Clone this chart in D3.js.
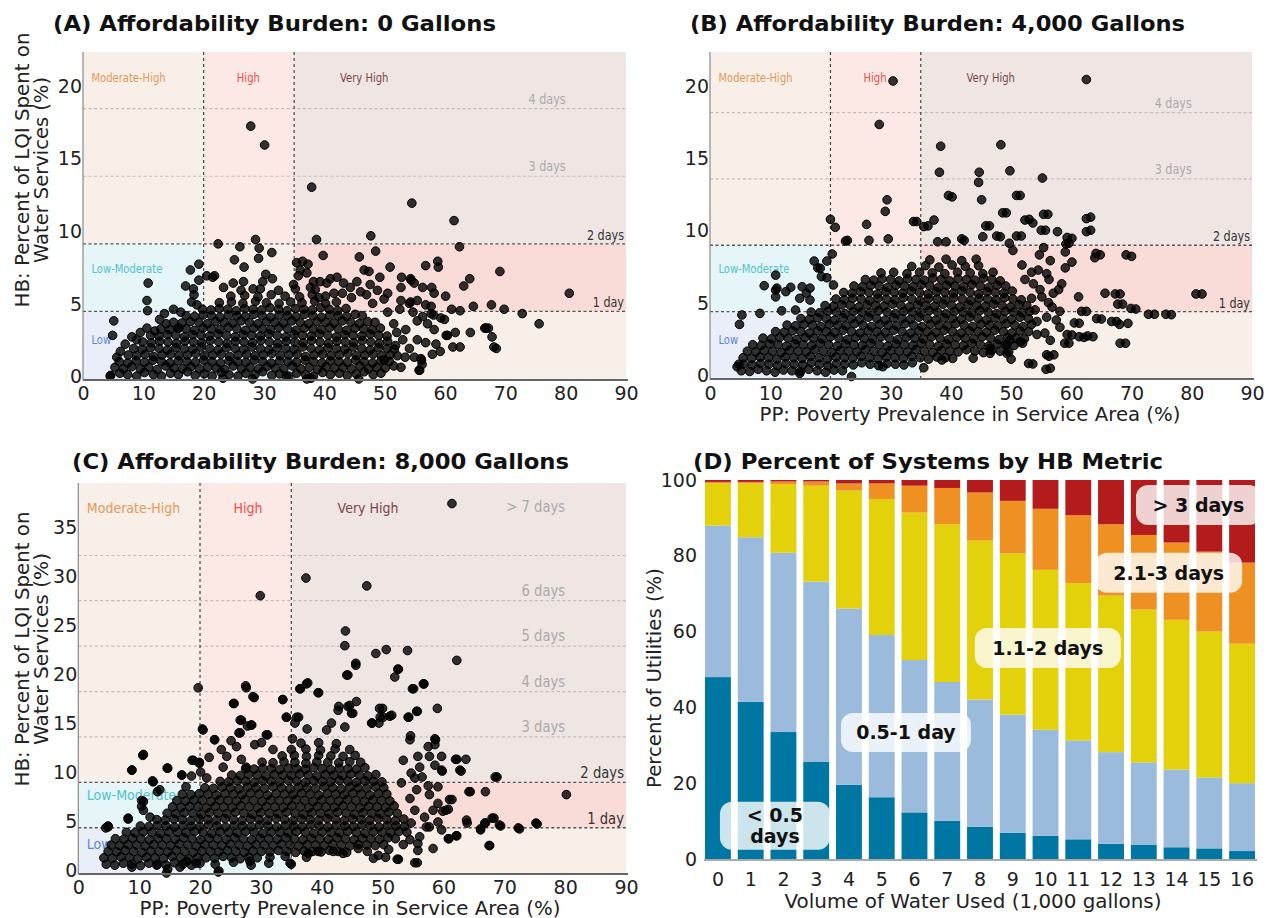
<!DOCTYPE html>
<html>
<head>
<meta charset="utf-8">
<script src="https://cdn.jsdelivr.net/npm/d3@7"></script>
<style>
  body { margin: 0; background: #fff; }
  text { font-family: "DejaVu Sans", Verdana, sans-serif; }
</style>
</head>
<body>
<svg width="1269" height="918"></svg>
<script>
// ---- data ----
var ppTicks = [0, 10, 20, 30, 40, 50, 60, 70, 80, 90];
var hbTicksAB = [0, 5, 10, 15, 20];
var hbTicksC = [0, 5, 10, 15, 20, 25, 30, 35];
var ppBreaks = [0, 20, 35, 90];
var daysA = [4.65, 9.3, 13.95, 18.6];
var daysB = [4.58, 9.16, 13.74, 18.32];
var daysC = [4.62, 9.25, 13.9, 18.5, 23.15, 27.8, 32.4];
var dayLabels = ["1 day", "2 days", "3 days", "4 days", "5 days", "6 days", "> 7 days"];
var zoneNames = ["Moderate-High", "High", "Very High", "Low-Moderate", "Low"];

// (x = PP %, y = HB %) points, "x,y" pairs
var pointsA = `
4.6,.25 6.1,.4 7.4,.3 8.9,.2 10.2,.45 11.7,.3 13,.2 14.5,.4 15.8,.3 17.3,.5 18.6,.25 20.1,.35 21.4,.2 22.9,.45 24.2,.3 25.7,.2 27,.4 28.5,.3 29.8,.5 31.3,.25 32.6,.35 34.1,.2 35.4,.4 36.9,.3 38.2,.2 39.7,.45 41,.3 42.5,.4 43.8,.25 45.3,.35 46.6,.5 48.1,.3 49.4,.4
5.3,.8 6.7,.7 8.1,.85 9.5,.7 10.9,.8 12.3,.65 13.7,.9 15.1,.75 16.5,.7 17.9,.85 19.3,.7 20.7,.8 22.1,.75 23.5,.65 24.9,.9 26.3,.7 27.7,.8 29.1,.7 30.5,.85 31.9,.75 33.3,.7 34.7,.9 36.1,.7 37.5,.8 38.9,.65 40.3,.85 41.7,.75 43.1,.8 44.5,.7 45.9,.9 47.3,.7 48.7,.8 50.1,.75
6,1.2 7.4,1.1 8.8,1.25 10.2,1.15 11.6,1.3 13,1.2 14.4,1.1 15.8,1.25 17.2,1.2 18.6,1.15 20,1.3 21.4,1.2 22.8,1.1 24.2,1.25 25.6,1.2 27,1.15 28.4,1.3 29.8,1.2 31.2,1.1 32.6,1.25 34,1.2 35.4,1.15 36.8,1.3 38.2,1.2 39.6,1.1 41,1.25 42.4,1.2 43.8,1.15 45.2,1.3 46.6,1.2 48,1.1 49.4,1.25 50.8,1.2
7.5,1.65 8.9,1.6 10.3,1.7 11.7,1.55 13.1,1.65 14.5,1.7 15.9,1.6 17.3,1.65 18.7,1.75 20.1,1.6 21.5,1.65 22.9,1.7 24.3,1.55 25.7,1.65 27.1,1.7 28.5,1.6 29.9,1.65 31.3,1.75 32.7,1.6 34.1,1.65 35.5,1.7 36.9,1.55 38.3,1.65 39.7,1.7 41.1,1.6 42.5,1.65 43.9,1.75 45.3,1.6 46.7,1.65 48.1,1.7 49.5,1.6 50.9,1.65
8.4,2.1 9.8,2.05 11.2,2.15 12.6,2.1 14,2 15.4,2.15 16.8,2.1 18.2,2.05 19.6,2.2 21,2.1 22.4,2 23.8,2.15 25.2,2.1 26.6,2.05 28,2.2 29.4,2.1 30.8,2 32.2,2.15 33.6,2.1 35,2.05 36.4,2.2 37.8,2.1 39.2,2 40.6,2.15 42,2.1 43.4,2.05 44.8,2.2 46.2,2.1 47.6,2 49,2.15 50.4,2.1 51.6,2.05
9.9,2.55 11.3,2.5 12.7,2.6 14.1,2.55 15.5,2.45 16.9,2.6 18.3,2.55 19.7,2.5 21.1,2.65 22.5,2.55 23.9,2.45 25.3,2.6 26.7,2.55 28.1,2.5 29.5,2.65 30.9,2.55 32.3,2.45 33.7,2.6 35.1,2.55 36.5,2.5 37.9,2.65 39.3,2.55 40.7,2.45 42.1,2.6 43.5,2.55 44.9,2.5 46.3,2.65 47.7,2.55 49.1,2.45 50.5,2.6
11.2,3 12.6,2.95 14,3.05 15.4,3 16.8,2.9 18.2,3.05 19.6,3 21,2.95 22.4,3.1 23.8,3 25.2,2.9 26.6,3.05 28,3 29.4,2.95 30.8,3.1 32.2,3 33.6,2.9 35,3.05 36.4,3 37.8,2.95 39.2,3.1 40.6,3 42,2.9 43.4,3.05 44.8,3 46.2,2.95 47.6,3.1 49,3 50.4,2.95
12.9,3.45 14.3,3.4 15.7,3.5 17.1,3.45 18.5,3.35 19.9,3.5 21.3,3.45 22.7,3.4 24.1,3.55 25.5,3.45 26.9,3.35 28.3,3.5 29.7,3.45 31.1,3.4 32.5,3.55 33.9,3.45 35.3,3.35 36.7,3.5 38.1,3.45 39.5,3.4 40.9,3.55 42.3,3.45 43.7,3.35 45.1,3.5 46.5,3.45 47.9,3.4 49.3,3.5
15,3.9 16.4,3.85 17.8,3.95 19.2,3.9 20.6,3.8 22,3.95 23.4,3.9 24.8,3.85 26.2,4 27.6,3.9 29,3.8 30.4,3.95 31.8,3.9 33.2,3.85 34.6,4 36,3.9 37.4,3.8 38.8,3.95 40.2,3.9 41.6,3.85 43,4 44.4,3.9 45.8,3.8 47.2,3.95 48.4,3.9
17.1,4.35 18.5,4.3 19.9,4.4 21.3,4.35 22.7,4.25 24.1,4.4 25.5,4.35 26.9,4.3 28.3,4.45 29.7,4.35 31.1,4.25 32.5,4.4 33.9,4.35 35.3,4.3 36.7,4.45 38.1,4.35 39.5,4.25 40.9,4.4 42.3,4.35 43.7,4.3 45.1,4.45 46.3,4.35
19.8,4.8 21.2,4.75 22.6,4.85 24,4.8 25.4,4.7 26.8,4.85 28.2,4.8 29.6,4.75 31,4.9 32.4,4.8 33.8,4.7 35.2,4.85 36.6,4.8 38,4.75 39.4,4.9 40.8,4.8 42.2,4.7 43.6,4.85
22.6,5.25 24.6,5.3 26.5,5.2 28.6,5.35 30.4,5.25 32.5,5.2 34.4,5.3 36.3,5.25 38.4,5.35 40.2,5.2 42,5.3
24.5,5.7 26.8,5.75 29,5.65 31.2,5.8 33.5,5.7 35.9,5.65 38,5.8 40.2,5.7
26.2,6.1 29.4,6.2 32.4,6.1 35.2,6.2 38.5,6.15
27.8,17.4 30.1,16.1 37.9,13.2 54.5,12.1 61.5,10.9 47.7,9.85 38.7,9.6 28.6,9.6 22.4,9.3 26,9.1 29.2,9 62.4,9.1 31.3,8.7 29.1,8.3 25.1,8.2
48.5,8.8 45.8,8.4 39.8,8.5 56.8,7.8 58.8,8.1 58.9,7.7 69.1,7.4 50.9,7.7 64.1,6.9 63.1,6.4 80.6,5.9 60.1,5.7 64.7,5 67.7,5.1 69.8,4.8
61.1,4.8 62.5,4.7 72.8,4.5 75.6,3.8 66.6,3.5 67.2,3.5 67.8,2.9 68.1,2.2 68.5,2.1 64.2,3.2 60.4,3 61.7,3.2 61.3,2.2 62.5,2.2 58.5,2.4
57.9,1.7 56,1.4 56.2,1 55.7,.6 52.7,.8 45.7,0 37.1,0 37.8,.05 33.7,.2 28.1,0 23.2,.05 4.5,.2 4.9,3 5.1,4 10.8,6.6 10.6,5.4 10.7,4.7 10.6,3.5
15,4.8 26.7,7.7 21.8,7.1 21.5,7 19.2,7.9 17.8,7.5 19.2,6.8 20.5,7.1 17,6.4 18.3,6.2 18.4,5.8 18,5.3 18.9,5.1 30.3,7.2 31.4,6.9 29.8,6.7
24.9,6.6 26.6,6.7 28.2,6.2 23.3,6.3 35.4,8 36.4,8.1 37.3,7.9 36,7.5 37.1,7.3 35.7,7.1 38.2,6.7 39.3,6.7 41,6.9 42.1,7 43.2,6.6 34.9,6.5
37.7,6.3 40.4,6.6 44.3,6.3 45.4,6.7 41.6,5.9 39.1,5.6 46.6,7.5 47.4,7.4 49.2,7 52.8,7 54.3,6.9 54.9,6.6 56.3,6.3 57.8,6.3 58.2,5.9
59.3,4.2 59.9,4.1 57.7,4.5 49.9,5.5 52.7,5.4 55.4,5.4 56.8,5.1 57.7,5 54.3,5.3 54.7,4.6 56.3,4.3 57.1,3.8 58.2,3.4 53.5,3.4 55.4,2.7
56.8,2.5 54.1,2.1 54.9,1.5 52.1,1.6 51.5,.9 49.9,1.3 53,2.7 53.4,1.5 55.8,.6 56.1,1.3 55.4,4 54.1,5.2 52.7,6.3 54.4,6.8 66.8,3.5
59.2,1.9 60.2,3 58.1,4.4 47,5.8 46,6 48,5.2 50.5,4.6 51.5,3.8 52.5,4.8 44.5,5.6 43,5.9 47.6,6.5 48.8,6.1 50.5,5.9 52,3.2 51.8,2.3
8.1,2.9 8.9,2.7 12.7,4.1 13.8,3.8 15.9,3.5 11.9,3.3 7,2.4 6.2,1.9 5.6,1.5 9.5,3.2 13.5,4.5 16.2,4.6`;

var pointsB = `
5.2,.5 6.6,.45 8,.6 9.4,.5 10.8,.4 12.2,.55 13.6,.5 15,.45 16.4,.6 17.8,.5 19.2,.4 20.6,.55 22,.5
5.6,.95 7,.9 8.4,1 9.8,.95 11.2,.85 12.6,1 14,.95 15.4,.9 16.8,1.05 18.2,.95 19.6,.85 21,1 22.4,.95 23.8,.9 25.2,1.05 26.6,.95 28,.85 29.4,1 30.8,.95 32.2,.9 33.6,1.05
5.5,1.4 6.9,1.35 8.3,1.45 9.7,1.4 11.1,1.3 12.5,1.45 13.9,1.4 15.3,1.35 16.7,1.5 18.1,1.4 19.5,1.3 20.9,1.45 22.3,1.4 23.7,1.35 25.1,1.5 26.5,1.4 27.9,1.3 29.3,1.45 30.7,1.4 32.1,1.35 33.5,1.5 34.9,1.4 36.3,1.3 37.7,1.45 39.1,1.4 40.3,1.35
6.2,1.85 7.6,1.8 9,1.9 10.4,1.85 11.8,1.75 13.2,1.9 14.6,1.85 16,1.8 17.4,1.95 18.8,1.85 20.2,1.75 21.6,1.9 23,1.85 24.4,1.8 25.8,1.95 27.2,1.85 28.6,1.75 30,1.9 31.4,1.85 32.8,1.8 34.2,1.95 35.6,1.85 37,1.75 38.4,1.9 39.8,1.85 41.2,1.8 42.6,1.95 44,1.85 45.4,1.75 46.8,1.9 48.2,1.85 49.6,1.8
7.1,2.3 8.5,2.25 9.9,2.35 11.3,2.3 12.7,2.2 14.1,2.35 15.5,2.3 16.9,2.25 18.3,2.4 19.7,2.3 21.1,2.2 22.5,2.35 23.9,2.3 25.3,2.25 26.7,2.4 28.1,2.3 29.5,2.2 30.9,2.35 32.3,2.3 33.7,2.25 35.1,2.4 36.5,2.3 37.9,2.2 39.3,2.35 40.7,2.3 42.1,2.25 43.5,2.4 44.9,2.3 46.3,2.2 47.7,2.35 49.1,2.3 50.5,2.25 51.9,2.4
8.8,2.75 10.2,2.7 11.6,2.8 13,2.75 14.4,2.65 15.8,2.8 17.2,2.75 18.6,2.7 20,2.85 21.4,2.75 22.8,2.65 24.2,2.8 25.6,2.75 27,2.7 28.4,2.85 29.8,2.75 31.2,2.65 32.6,2.8 34,2.75 35.4,2.7 36.8,2.85 38.2,2.75 39.6,2.65 41,2.8 42.4,2.75 43.8,2.7 45.2,2.85 46.6,2.75 48,2.65 49.4,2.8 50.8,2.75 52.2,2.7
10.9,3.2 12.3,3.15 13.7,3.25 15.1,3.2 16.5,3.1 17.9,3.25 19.3,3.2 20.7,3.15 22.1,3.3 23.5,3.2 24.9,3.1 26.3,3.25 27.7,3.2 29.1,3.15 30.5,3.3 31.9,3.2 33.3,3.1 34.7,3.25 36.1,3.2 37.5,3.15 38.9,3.3 40.3,3.2 41.7,3.1 43.1,3.25 44.5,3.2 45.9,3.15 47.3,3.3 48.7,3.2 50.1,3.1 51.5,3.25 52.9,3.2
12.8,3.65 14.2,3.6 15.6,3.7 17,3.65 18.4,3.55 19.8,3.7 21.2,3.65 22.6,3.6 24,3.75 25.4,3.65 26.8,3.55 28.2,3.7 29.6,3.65 31,3.6 32.4,3.75 33.8,3.65 35.2,3.55 36.6,3.7 38,3.65 39.4,3.6 40.8,3.75 42.2,3.65 43.6,3.55 45,3.7 46.4,3.65 47.8,3.6 49.2,3.75 50.6,3.65 52,3.55 53.4,3.7
15.1,4.1 16.5,4.05 17.9,4.15 19.3,4.1 20.7,4 22.1,4.15 23.5,4.1 24.9,4.05 26.3,4.2 27.7,4.1 29.1,4 30.5,4.15 31.9,4.1 33.3,4.05 34.7,4.2 36.1,4.1 37.5,4 38.9,4.15 40.3,4.1 41.7,4.05 43.1,4.2 44.5,4.1 45.9,4 47.3,4.15 48.7,4.1 50.1,4.05 51.5,4.2 52.9,4.1
16.8,4.55 18.2,4.5 19.6,4.6 21,4.55 22.4,4.45 23.8,4.6 25.2,4.55 26.6,4.5 28,4.65 29.4,4.55 30.8,4.45 32.2,4.6 33.6,4.55 35,4.5 36.4,4.65 37.8,4.55 39.2,4.45 40.6,4.6 42,4.55 43.4,4.5 44.8,4.65 46.2,4.55 47.6,4.45 49,4.6 50.4,4.55 51.8,4.5 53.1,4.6
19.1,5 20.5,4.95 21.9,5.05 23.3,5 24.7,4.9 26.1,5.05 27.5,5 28.9,4.95 30.3,5.1 31.7,5 33.1,4.9 34.5,5.05 35.9,5 37.3,4.95 38.7,5.1 40.1,5 41.5,4.9 42.9,5.05 44.3,5 45.7,4.95 47.1,5.1 48.5,5 49.9,4.9 51.3,5.05 52.6,5
20.9,5.45 22.3,5.4 23.7,5.5 25.1,5.45 26.5,5.35 27.9,5.5 29.3,5.45 30.7,5.4 32.1,5.55 33.5,5.45 34.9,5.35 36.3,5.5 37.7,5.45 39.1,5.4 40.5,5.55 41.9,5.45 43.3,5.35 44.7,5.5 46.1,5.45 47.5,5.4 48.9,5.55 50.3,5.45 51.7,5.4
22.2,5.9 23.6,5.85 25,5.95 26.4,5.9 27.8,5.8 29.2,5.95 30.6,5.9 32,5.85 33.4,6 34.8,5.9 36.2,5.8 37.6,5.95 39,5.9 40.4,5.85 41.8,6 43.2,5.9 44.6,5.8 46,5.95 47.4,5.9 48.8,5.85 50.2,6
23.9,6.35 25.3,6.3 26.7,6.4 28.1,6.35 29.5,6.25 30.9,6.4 32.3,6.35 33.7,6.3 35.1,6.45 36.5,6.35 37.9,6.25 39.3,6.4 40.7,6.35 42.1,6.3 43.5,6.45 44.9,6.35 46.3,6.25 47.7,6.4 49.1,6.35
25.8,6.8 27.2,6.75 28.6,6.85 30,6.8 31.4,6.7 32.8,6.85 34.2,6.8 35.6,6.75 37,6.9 38.4,6.8 39.8,6.7 41.2,6.85 42.6,6.8 44,6.75 45.4,6.9 46.8,6.8 48.2,6.7
28.4,7.25 30.5,7.3 32.7,7.2 34.8,7.3 36.9,7.25 39,7.2 41.1,7.3 43.2,7.25 45.3,7.2 47,7.3
33.5,7.7 35.8,7.75 38,7.65 40.2,7.8 42.4,7.7 44.6,7.75
36.5,8.15 39.2,8.2 41.8,8.1 44.2,8.2
30.4,20.5 62.5,20.6 28.1,17.5 38.3,16 48.3,16.1 38.1,14.2 44.7,14.2 44.6,13.5 49.8,14.3 55.2,13.8 40.2,12.5 45.1,12.3 51.5,12.6 29.4,12.3 29.1,11.5
49.2,11.4 56.1,11.3 53,10.95 53.6,10.7 63.2,11.1 63.2,10.2 46.4,10.5 55.7,10.2 57.7,10.1 51.7,9.8 48.2,9.75 60.1,9.64 59.6,9.3 20,10.95 20.8,10.4
22.8,9.5 26,10.6 26.4,9.5 29.6,9.6 34.3,10.8 36.2,10.5 37.2,10.9 37.8,9.4 39.2,9.4 42.2,9.5 45.3,9.75 70,8.4 64.8,8.5 63.9,8.3 81.7,5.8
65.6,5.85 68.1,5.8 68.5,5.1 70.7,4.76 73.8,4.4 76.6,4.37 62.5,4.6 65,4.07 67.5,3.9 69.4,3.77 69,2.4 61.3,3.78 62.1,2.8 63.6,2.85 60.1,2.97
59.6,2.4 57.1,1.6 56.5,.67 53.6,.97 50,1.3 43.7,1.36 38.5,1.24 35.5,.71 28.7,.78 23.5,.1 14.9,.32 4.8,.95 4.5,.78 4.9,3.7 5.3,4.35
8.3,4.46 9,6.37 10.9,7.1 10.9,6.07 10.9,5.6 12.6,5.96 13.4,6.26 15.3,6.3 16,5.85 17.3,8.07 19.4,8.07 18.3,7.57 18.5,7 19.4,6.92 20.5,6.42
20.3,8.56 14.9,5.5 16.6,5.38 14.2,4.69 11.9,4.64 11.1,6.2 16.6,6.2 17.9,7.6 22.5,9.45 33.8,10.8 35.5,10.45 39.6,12.6 41.8,9.6
50.9,12.6 48.6,11.4 55.4,11.3 52.3,10.9 45.8,10.5 55,10.2 62.5,11 62.5,10.1 47.6,9.8 50.9,9.8 59.3,9.7 59.1,9.25 49.7,9.3 50.3,8.8
55.4,9 59,8.7 54.7,8.5 60.1,8 64.1,8.6 69.1,8.5 56.5,8.1 59,7.6 55.9,7.2 56.3,6.8 58.4,6.5 57.9,6.1 61.2,5.6 67.3,5.8 67.7,5.1
69.9,4.8 72.8,4.4 75.7,4.4 80.7,5.8 64.2,4.1 66.7,3.9 68,3.7 68.1,2.4 61.7,4.6 60.5,3.8 61.3,2.85 62.7,2.9 59.3,3 58.9,2.4 55.9,1.6
56.3,1.5 55.8,.6 52.9,1 51.5,2.5 54.3,3 55.6,3.1 56.5,2.6 58.1,3.5 57.5,4 55.9,4.2 54.3,3.9 54,4.7 56.8,4.9 58.1,4.6 55.1,5.6
57,5.85 53.4,5.5 54.5,7.45 51.8,7.8 53.4,7.3 52.3,6.8 53.7,6.5 49.3,2.3 49.8,2.6 46.5,2.05 46.5,1.7 49.3,1.7 54.8,6.1 56.2,5.2`;

var pointsC = `
4.6,.9 6,.8 7.4,1 8.8,.9 10.2,.75 11.6,1 13,.9 14.4,.8 15.8,1.05 17.2,.9 18.6,.8 20,1 22.5,.9 25.5,1.1 28.4,.8 31.3,1
4.2,1.55 5.6,1.5 7,1.65 8.4,1.55 9.8,1.45 11.2,1.6 12.6,1.55 14,1.5 15.4,1.7 16.8,1.55 18.2,1.45 19.6,1.6 21,1.55 22.4,1.5 23.8,1.7 25.2,1.55 26.6,1.45 28,1.6 29.4,1.55 31.5,1.6 34,1.7 37.5,1.6
4.9,2.2 6.3,2.15 7.7,2.3 9.1,2.2 10.5,2.1 11.9,2.25 13.3,2.2 14.7,2.15 16.1,2.3 17.5,2.2 18.9,2.1 20.3,2.25 21.7,2.2 23.1,2.15 24.5,2.3 25.9,2.2 27.3,2.1 28.7,2.25 30.1,2.2 31.5,2.15 32.9,2.3 34.3,2.2 35.7,2.1 37.1,2.25 38.5,2.2 39.9,2.15 41.3,2.3 42.7,2.2 44.1,2.1
5.4,2.85 6.8,2.8 8.2,2.9 9.6,2.85 11,2.75 12.4,2.9 13.8,2.85 15.2,2.8 16.6,2.95 18,2.85 19.4,2.75 20.8,2.9 22.2,2.85 23.6,2.8 25,2.95 26.4,2.85 27.8,2.75 29.2,2.9 30.6,2.85 32,2.8 33.4,2.95 34.8,2.85 36.2,2.75 37.6,2.9 39,2.85 40.4,2.8 41.8,2.95 43.2,2.85 44.6,2.75 46,2.9 47.4,2.85 48.8,2.8 50.2,2.9
6.1,3.5 7.5,3.45 8.9,3.55 10.3,3.5 11.7,3.4 13.1,3.55 14.5,3.5 15.9,3.45 17.3,3.6 18.7,3.5 20.1,3.4 21.5,3.55 22.9,3.5 24.3,3.45 25.7,3.6 27.1,3.5 28.5,3.4 29.9,3.55 31.3,3.5 32.7,3.45 34.1,3.6 35.5,3.5 36.9,3.4 38.3,3.55 39.7,3.5 41.1,3.45 42.5,3.6 43.9,3.5 45.3,3.4 46.7,3.55 48.1,3.5 49.5,3.45 50.9,3.6 52.1,3.5
7.9,4.15 9.3,4.1 10.7,4.2 12.1,4.15 13.5,4.05 14.9,4.2 16.3,4.15 17.7,4.1 19.1,4.25 20.5,4.15 21.9,4.05 23.3,4.2 24.7,4.15 26.1,4.1 27.5,4.25 28.9,4.15 30.3,4.05 31.7,4.2 33.1,4.15 34.5,4.1 35.9,4.25 37.3,4.15 38.7,4.05 40.1,4.2 41.5,4.15 42.9,4.1 44.3,4.25 45.7,4.15 47.1,4.05 48.5,4.2 49.9,4.15 51.3,4.1 52.7,4.25 54,4.15
10.2,4.8 11.6,4.75 13,4.85 14.4,4.8 15.8,4.7 17.2,4.85 18.6,4.8 20,4.75 21.4,4.9 22.8,4.8 24.2,4.7 25.6,4.85 27,4.8 28.4,4.75 29.8,4.9 31.2,4.8 32.6,4.7 34,4.85 35.4,4.8 36.8,4.75 38.2,4.9 39.6,4.8 41,4.7 42.4,4.85 43.8,4.8 45.2,4.75 46.6,4.9 48,4.8 49.4,4.7 50.8,4.85 52.2,4.8 53.6,4.75
12.9,5.45 14.3,5.4 15.7,5.5 17.1,5.45 18.5,5.35 19.9,5.5 21.3,5.45 22.7,5.4 24.1,5.55 25.5,5.45 26.9,5.35 28.3,5.5 29.7,5.45 31.1,5.4 32.5,5.55 33.9,5.45 35.3,5.35 36.7,5.5 38.1,5.45 39.5,5.4 40.9,5.55 42.3,5.45 43.7,5.35 45.1,5.5 46.5,5.45 47.9,5.4 49.3,5.55 50.7,5.45 52.1,5.35 53.5,5.5
14.6,6.1 16,6.05 17.4,6.15 18.8,6.1 20.2,6 21.6,6.15 23,6.1 24.4,6.05 25.8,6.2 27.2,6.1 28.6,6 30,6.15 31.4,6.1 32.8,6.05 34.2,6.2 35.6,6.1 37,6 38.4,6.15 39.8,6.1 41.2,6.05 42.6,6.2 44,6.1 45.4,6 46.8,6.15 48.2,6.1 49.6,6.05 51,6.2 52.4,6.1
15.5,6.75 16.9,6.7 18.3,6.8 19.7,6.75 21.1,6.65 22.5,6.8 23.9,6.75 25.3,6.7 26.7,6.85 28.1,6.75 29.5,6.65 30.9,6.8 32.3,6.75 33.7,6.7 35.1,6.85 36.5,6.75 37.9,6.65 39.3,6.8 40.7,6.75 42.1,6.7 43.5,6.85 44.9,6.75 46.3,6.65 47.7,6.8 49.1,6.75 50.5,6.7 51.9,6.85
16.2,7.4 17.6,7.35 19,7.45 20.4,7.4 21.8,7.3 23.2,7.45 24.6,7.4 26,7.35 27.4,7.5 28.8,7.4 30.2,7.3 31.6,7.45 33,7.4 34.4,7.35 35.8,7.5 37.2,7.4 38.6,7.3 40,7.45 41.4,7.4 42.8,7.35 44.2,7.5 45.6,7.4 47,7.3 48.4,7.45 49.8,7.4 51.2,7.35
17.1,8.05 18.5,8 19.9,8.1 21.3,8.05 22.7,7.95 24.1,8.1 25.5,8.05 26.9,8 28.3,8.15 29.7,8.05 31.1,7.95 32.5,8.1 33.9,8.05 35.3,8 36.7,8.15 38.1,8.05 39.5,7.95 40.9,8.1 42.3,8.05 43.7,8 45.1,8.15 46.5,8.05 47.9,7.95 49.3,8.1 50.7,8.05
20.8,8.7 22.2,8.65 23.6,8.75 25,8.7 26.4,8.6 27.8,8.75 29.2,8.7 30.6,8.65 32,8.8 33.4,8.7 34.8,8.6 36.2,8.75 37.6,8.7 39,8.65 40.4,8.8 41.8,8.7 43.2,8.6 44.6,8.75 46,8.7 47.4,8.65 48.8,8.8 50.2,8.7
23.3,9.35 24.7,9.3 26.1,9.4 27.5,9.35 28.9,9.25 30.3,9.4 31.7,9.35 33.1,9.3 34.5,9.45 35.9,9.35 37.3,9.25 38.7,9.4 40.1,9.35 41.5,9.3 42.9,9.45 44.3,9.35 45.7,9.25 47.1,9.4 48.5,9.35 49.9,9.3
25.2,10 26.6,9.95 28,10.05 29.4,10 30.8,9.9 32.2,10.05 33.6,10 35,9.95 36.4,10.1 37.8,10 39.2,9.9 40.6,10.05 42,10 43.4,9.95 44.8,10.1 46.2,10 47.6,9.9 48.9,10.05
27.5,10.65 28.9,10.6 30.3,10.7 31.7,10.65 33.1,10.55 34.5,10.7 35.9,10.65 37.3,10.6 38.7,10.75 40.1,10.65 41.5,10.55 42.9,10.7 44.3,10.65 45.7,10.6 47.1,10.75
30.2,11.3 32,11.25 33.8,11.35 35.6,11.3 37.4,11.2 39.2,11.35 41,11.3 42.8,11.25 44.6,11.35 46.4,11.3
33.5,11.95 35.5,12 37.5,11.9 39.5,12 41.5,11.95 43.5,11.9 45.5,12
35,12.6 37.4,12.65 39.8,12.55 42.2,12.65 44.6,12.6 36.6,13.25 39.5,13.3 42.4,13.2
61.4,37.7 37.4,30.1 47.4,29.3 29.9,28.3 43.9,24.7 43.8,23.2 48.9,22.4 50.6,22.8 54.1,22.7 62.2,21.7 45.6,21.2 44.3,20.2 52.6,20.8 52,20 56.8,19.3
55.1,18.8 19.7,18.9 27.6,18.9 28.9,17.9 33.6,17.7 36.5,18.8 37.7,19.4 39.5,18.4 25.6,17.3 42.8,17 44.6,17.1 45.1,16.3 59,16.8 50,16.8 49.6,15.9
51.5,16.1 55.7,16.5 54.3,15.9 48.3,15.3 34.2,15.9 36.2,15.9 26.8,15.6 28.4,15.1 20.4,14.7 26.6,14.3 31.1,14.1 58.7,13.6 54.5,13.6 22.4,13.6 35.2,13.7
62.2,11.6 63.7,11.6 62.9,10.4 59.8,10.4 68.8,9.8 64.4,8.3 66.9,8.3 80.2,8 61.4,7.5 60.4,6.4 63.9,5.1 66.9,5.1 68.3,5.6 69.4,4.8 72.5,4.5
75.4,5 66.1,4.5 67.6,2.8 62.2,3.8 60.8,3.5 58.3,2.5 55.7,1.05 52.6,1.4 49.3,1.8 35,.9 23.1,.2 14.7,.4 10.7,12.1 8.8,10.5 14.7,10.7
12.3,9.3 18.7,11.5 17,10 8.2,5.5 4.9,4.8 4.5,4.6 10.7,7.3 10.7,6.4 13,8.3 17.7,8.8 20.1,10.3 19.9,11.3 21.1,9.7 45.6,21.4 52.5,20.8
54.9,18.8 56.7,19.3 55.6,16.5 54.2,15.9 51.2,16 49.5,16.8 50.1,15.9 48.2,15.3 49.4,15.3 54.6,14 58.6,13.7 58.6,13.1 59.7,11.9 62,11.6
62.7,10.5 68.5,9.8 64.2,8.3 61,7.5 59.9,6.3 60.8,6.5 59.1,7.1 57.7,8 59.1,8.8 57.5,8.9 56.5,9.8 55.3,9.7 59.7,10.5 63.8,5.4 66.8,5.1
68,5.6 69.2,4.9 72.3,4.6 75.2,5.1 66.1,4.4 67.5,2.8 62.1,3.8 60.9,3.5 55.3,1.05 52.4,1.4 55.8,2.3 59.7,4.4 59.1,5.2 57.7,4.7 58.3,6.4
56.9,5.7 55.3,6.4 54.7,5.1 56.1,3.7 54.5,3.4 53.4,2.9 55.8,3 57.2,4.7 54.5,7.6 55.6,8.5 53.1,9.2 54.7,10.2 56.1,10.8 55.8,11.9 53.4,11.5
57.7,11.9 57.5,12.9 58.6,11 27.5,19.1 25.5,17.3 28.7,18 33.6,17.7 36.4,18.8 37.5,19.3 39.4,18.4 44.1,20.2 42.7,16.6 44.3,17 44.9,16.3
45.7,17.5 41.6,15.3 43.8,14.9 40.8,14.6 34.2,15.9 35.6,15.3 35.9,15.9 37.6,14.7 26.6,15.6 27.8,15 28.5,15.1 30.9,14.1 26.4,14.3 22.4,13.6
25.1,13.5 26,12.9 29,13.1 30.1,13.3 32,12.6 23.5,12.6 24.4,11.9 26.8,11.6 27.6,10.8 20.5,14.6 10.6,12 8.8,10.5 14.6,10.7 18.9,11.5
19.9,11.2 17,10 18.6,9.9 12.2,9.4 13.4,8.5 10.4,7.4 10.4,6.8 11.8,5.7 8.2,5.6 4.9,4.7 14.5,0 23,.1 28.2,1.2 34.8,1 37.8,2
39.4,2.2 41.9,2.2 43.5,2 19.4,1 17.8,1.2 16.7,.6 12.9,.8 8.8,.6 46,2.5 47.5,2.2 48.5,1.5 51,2.4 50.5,1.6 21.5,11.8 23.8,10.8`;

// panel D: share of systems (%) per HB class, by volume used (1,000 gal)
var volumes = [0, 1, 2, 3, 4, 5, 6, 7, 8, 9, 10, 11, 12, 13, 14, 15, 16];
var lt05 = [48.0, 41.5, 33.5, 25.7, 19.6, 16.3, 12.3, 10.1, 8.5, 6.9, 6.1, 5.2, 4.0, 3.7, 3.1, 2.8, 2.1];
var d05to1 = [40.0, 43.4, 47.3, 47.5, 46.5, 42.8, 40.2, 36.6, 33.6, 31.2, 28.0, 26.1, 24.2, 21.8, 20.5, 18.7, 17.9];
var d11to2 = [11.1, 14.2, 18.1, 25.3, 31.1, 35.9, 38.9, 41.6, 41.9, 42.5, 42.2, 41.5, 41.3, 40.3, 39.5, 38.5, 36.8];
var d21to3 = [0.4, 0.4, 0.7, 1.1, 1.9, 4.1, 7.1, 9.6, 12.7, 13.9, 16.1, 17.9, 18.8, 19.7, 20.4, 21.1, 21.4];
var gt3 = [0.5, 0.5, 0.4, 0.4, 0.9, 0.9, 1.5, 2.1, 3.3, 5.5, 7.6, 9.3, 11.7, 14.5, 16.5, 18.9, 21.8];
var pctTicks = [0, 20, 40, 60, 80, 100];
var classNames = ["< 0.5 days", "0.5-1 day", "1.1-2 days", "2.1-3 days", "> 3 days"];

// ---- drawing ----
var svg = d3.select("svg");
var zoneFill = [
  ["#e9eef8", "#e6f5f7", "#f8efe9"],
  ["#e6f5f7", "#f8efe9", "#fce8e4"],
  ["#f8efe9", "#f9dcd8", "#efe6e4"]
];
var zoneColor = ["#e39a58", "#e8524a", "#7a4545", "#4fc3d0", "#5b86d6"];

function parsePts(s) {
  return s.trim().split(/\s+/).map(function(t) { return t.split(",").map(Number); });
}

function squeeze(sel, k) {
  sel.each(function() {
    var w = this.getComputedTextLength();
    d3.select(this).attr("textLength", w * k).attr("lengthAdjust", "spacingAndGlyphs");
  });
}

function fitTo(sel, w) {
  sel.attr("textLength", w).attr("lengthAdjust", "spacingAndGlyphs");
}

function title(txt, x, y, w) {
  svg.append("text").attr("x", x).attr("y", y)
    .attr("font-size", 21).attr("font-weight", "bold").attr("fill", "#111")
    .text(txt).call(fitTo, w);
}

function yLabel(lines, x, y, widths) {
  lines.forEach(function(l, i) {
    svg.append("text")
      .attr("transform", "translate(" + (x + i * 19) + "," + y + ") rotate(-90)")
      .attr("text-anchor", "middle").attr("font-size", 19).attr("fill", "#222")
      .text(l).call(fitTo, widths[i]);
  });
}

function xLabel(txt, x, y, w) {
  svg.append("text").attr("x", x).attr("y", y).attr("text-anchor", "middle")
    .attr("font-size", 19).attr("fill", "#222").text(txt).call(fitTo, w);
}

function scatter(cfg) {
  var x = d3.scaleLinear().domain([0, 90]).range([cfg.left, cfg.right]),
      y = d3.scaleLinear().domain([0, cfg.ymax]).range([cfg.bottom, cfg.top]),
      g = svg.append("g"),
      yb = [0, cfg.days[0], cfg.days[1], cfg.ymax];

  zoneFill.forEach(function(col, i) {
    col.forEach(function(c, j) {
      g.append("rect")
        .attr("x", x(ppBreaks[i])).attr("width", x(ppBreaks[i + 1]) - x(ppBreaks[i]))
        .attr("y", y(yb[j + 1])).attr("height", y(yb[j]) - y(yb[j + 1]))
        .attr("fill", c);
    });
  });

  // zone names
  var zx = [1.4, 25.5, 42.6, 1.4, 1.4],
      zy = [cfg.top + 30,
            cfg.top + 30,
            cfg.top + 30,
            (y(cfg.days[0]) + y(cfg.days[1])) / 2 - 5,
            (y(0) + y(cfg.days[0])) / 2 - 1];
  zoneNames.forEach(function(n, i) {
    g.append("text").attr("x", x(zx[i])).attr("y", zy[i])
      .attr("font-size", cfg.zoneSize).attr("fill", zoneColor[i])
      .text(n).call(squeeze, cfg.zoneK);
  });

  // day lines
  cfg.days.forEach(function(d, i) {
    var dark = i < 2;
    g.append("line")
      .attr("x1", x(0)).attr("x2", x(90)).attr("y1", y(d)).attr("y2", y(d))
      .attr("stroke", dark ? "#555" : "#c4bcbc").attr("stroke-width", dark ? 1.4 : 1.2)
      .attr("stroke-dasharray", "3,2.5");
    var lbl = g.append("text")
      .attr("text-anchor", "end").attr("font-size", cfg.daySize)
      .attr("fill", dark ? "#333" : "#aaa").text(dayLabels[i]);
    if (dark) lbl.attr("x", x(90) - 2).attr("y", y(d) - 4);
    else if (dayLabels[i].charAt(0) === ">") lbl.attr("x", x(80)).attr("y", cfg.top + 29);
    else lbl.attr("x", x(80)).attr("y", y(d) - 5);
    lbl.call(squeeze, cfg.dayK);
  });

  // PP breaks
  [20, 35].forEach(function(v) {
    g.append("line").attr("x1", x(v)).attr("x2", x(v))
      .attr("y1", y(cfg.ymax)).attr("y2", y(0))
      .attr("stroke", "#444").attr("stroke-width", 1.2).attr("stroke-dasharray", "3,3");
  });

  // points
  g.append("g").selectAll("circle").data(parsePts(cfg.pts)).enter().append("circle")
    .attr("cx", function(d) { return x(d[0]); })
    .attr("cy", function(d) { return y(d[1]); })
    .attr("r", 4.3)
    .attr("fill", "#000").attr("fill-opacity", 0.8)
    .attr("stroke", "#000").attr("stroke-width", 1);

  // axes
  g.append("line").attr("x1", x(0)).attr("x2", x(90) + 2)
    .attr("y1", y(0) + 1).attr("y2", y(0) + 1).attr("stroke", "#666").attr("stroke-width", 2.2);
  g.append("line").attr("x1", x(0)).attr("x2", x(0))
    .attr("y1", y(cfg.ymax)).attr("y2", y(0) + 1).attr("stroke", "#888").attr("stroke-width", 1.2);

  var ax = g.append("g").attr("transform", "translate(0," + y(0) + ")")
    .call(d3.axisBottom(x).tickValues(ppTicks).tickSize(0).tickPadding(cfg.xPad));
  var ay = g.append("g").attr("transform", "translate(" + x(0) + ",0)")
    .call(d3.axisLeft(y).tickValues(cfg.yticks).tickSize(0).tickPadding(1));
  [ax, ay].forEach(function(a) {
    a.select(".domain").remove();
    a.selectAll("text").attr("font-size", 19).attr("fill", "#222")
      .attr("font-family", '"DejaVu Sans", Verdana, sans-serif');
  });
  ay.selectAll("text").attr("dy", "0.2em");
}

scatter({pts: pointsA, days: daysA, ymax: 22.5, yticks: hbTicksAB,
         left: 83, right: 626, top: 52, bottom: 379, xPad: 8,
         zoneSize: 12.5, zoneK: 0.8, daySize: 14, dayK: 0.8});
scatter({pts: pointsB, days: daysB, ymax: 22.5, yticks: hbTicksAB,
         left: 710, right: 1252, top: 52, bottom: 378, xPad: 9,
         zoneSize: 12.5, zoneK: 0.8, daySize: 14, dayK: 0.8});
scatter({pts: pointsC, days: daysC, ymax: 39.8, yticks: hbTicksC,
         left: 78.3, right: 626, top: 483, bottom: 873, xPad: 8,
         zoneSize: 14, zoneK: 0.9, daySize: 15.5, dayK: 0.85});

title("(A) Affordability Burden: 0 Gallons", 53, 31, 443);
title("(B) Affordability Burden: 4,000 Gallons", 690, 31, 495);
title("(C) Affordability Burden: 8,000 Gallons", 72, 469, 497);
title("(D) Percent of Systems by HB Metric", 693, 469, 470);

yLabel(["HB: Percent of LQI Spent on", "Water Services (%)"], 29, 170, [275, 186]);
yLabel(["HB: Percent of LQI Spent on", "Water Services (%)"], 29, 649, [275, 192]);
xLabel("PP: Poverty Prevalence in Service Area (%)", 970, 421, 421);
xLabel("PP: Poverty Prevalence in Service Area (%)", 350, 915, 421);

// ---- panel D: stacked bars ----
(function() {
  var keys = ["lt05", "d05to1", "d11to2", "d21to3", "gt3"],
      colors = ["#0077a2", "#9bbbdd", "#e2d10b", "#ee9122", "#b41b1d"],
      table = volumes.map(function(v, i) {
        return {vol: v, lt05: lt05[i], d05to1: d05to1[i], d11to2: d11to2[i], d21to3: d21to3[i], gt3: gt3[i]};
      }),
      series = d3.stack().keys(keys)(table),
      x = d3.scaleBand().domain(volumes).range([705, 1255]).paddingInner(0.21).paddingOuter(0),
      y = d3.scaleLinear().domain([0, 100]).range([859, 480]),
      xi = d3.scaleLinear().domain([0, 16]).range([x(0) + x.bandwidth() / 2, x(16) + x.bandwidth() / 2]),
      g = svg.append("g");

  g.selectAll("g.layer").data(series).enter().append("g")
    .attr("class", "layer")
    .attr("fill", function(d, i) { return colors[i]; })
    .selectAll("rect").data(function(d) { return d; }).enter().append("rect")
    .attr("x", function(d) { return x(d.data.vol); })
    .attr("width", x.bandwidth())
    .attr("y", function(d) { return y(d[1]); })
    .attr("height", function(d) { return y(d[0]) - y(d[1]); });

  g.append("line").attr("x1", 704).attr("x2", 1257).attr("y1", y(0) + 1).attr("y2", y(0) + 1)
    .attr("stroke", "#555").attr("stroke-width", 1.2);

  var ax = g.append("g").attr("transform", "translate(0," + y(0) + ")")
    .call(d3.axisBottom(x).tickSize(0).tickPadding(14));
  var ay = g.append("g").attr("transform", "translate(705,0)")
    .call(d3.axisLeft(y).tickValues(pctTicks).tickSize(0).tickPadding(8));
  [ax, ay].forEach(function(a) {
    a.select(".domain").remove();
    a.selectAll("text").attr("font-size", 19).attr("fill", "#222")
      .attr("font-family", '"DejaVu Sans", Verdana, sans-serif');
  });

  // class labels
  var pills = [
    {name: classNames[4], at: 14.67, pct: 93.4, w: 125, h: 40},
    {name: classNames[3], at: 13.76, pct: 75.5, w: 147, h: 40},
    {name: classNames[2], at: 10.07, pct: 55.7, w: 146, h: 40},
    {name: classNames[1], at: 5.74, pct: 33.4, w: 130, h: 39},
    {name: classNames[0], at: 1.74, pct: 8.8, w: 110, h: 48, wrap: true}
  ];
  pills.forEach(function(p) {
    var cx = xi(p.at), cy = y(p.pct);
    g.append("rect").attr("x", cx - p.w / 2).attr("y", cy - p.h / 2)
      .attr("width", p.w).attr("height", p.h).attr("rx", 12)
      .attr("fill", "#fff").attr("fill-opacity", 0.8);
    var lines = p.wrap ? ["< 0.5", "days"] : [p.name];
    lines.forEach(function(l, i) {
      g.append("text").attr("x", cx)
        .attr("y", lines.length > 1 ? cy - 4 + i * 21 : cy + 7)
        .attr("text-anchor", "middle").attr("font-size", 19).attr("font-weight", "bold")
        .attr("fill", "#111").text(l);
    });
  });

  xLabel("Volume of Water Used (1,000 gallons)", 973, 908, 377);
  svg.append("text")
    .attr("transform", "translate(661,678) rotate(-90)")
    .attr("text-anchor", "middle").attr("font-size", 19).attr("fill", "#222")
    .text("Percent of Utilities (%)").call(fitTo, 220);
})();
</script>
</body>
</html>
